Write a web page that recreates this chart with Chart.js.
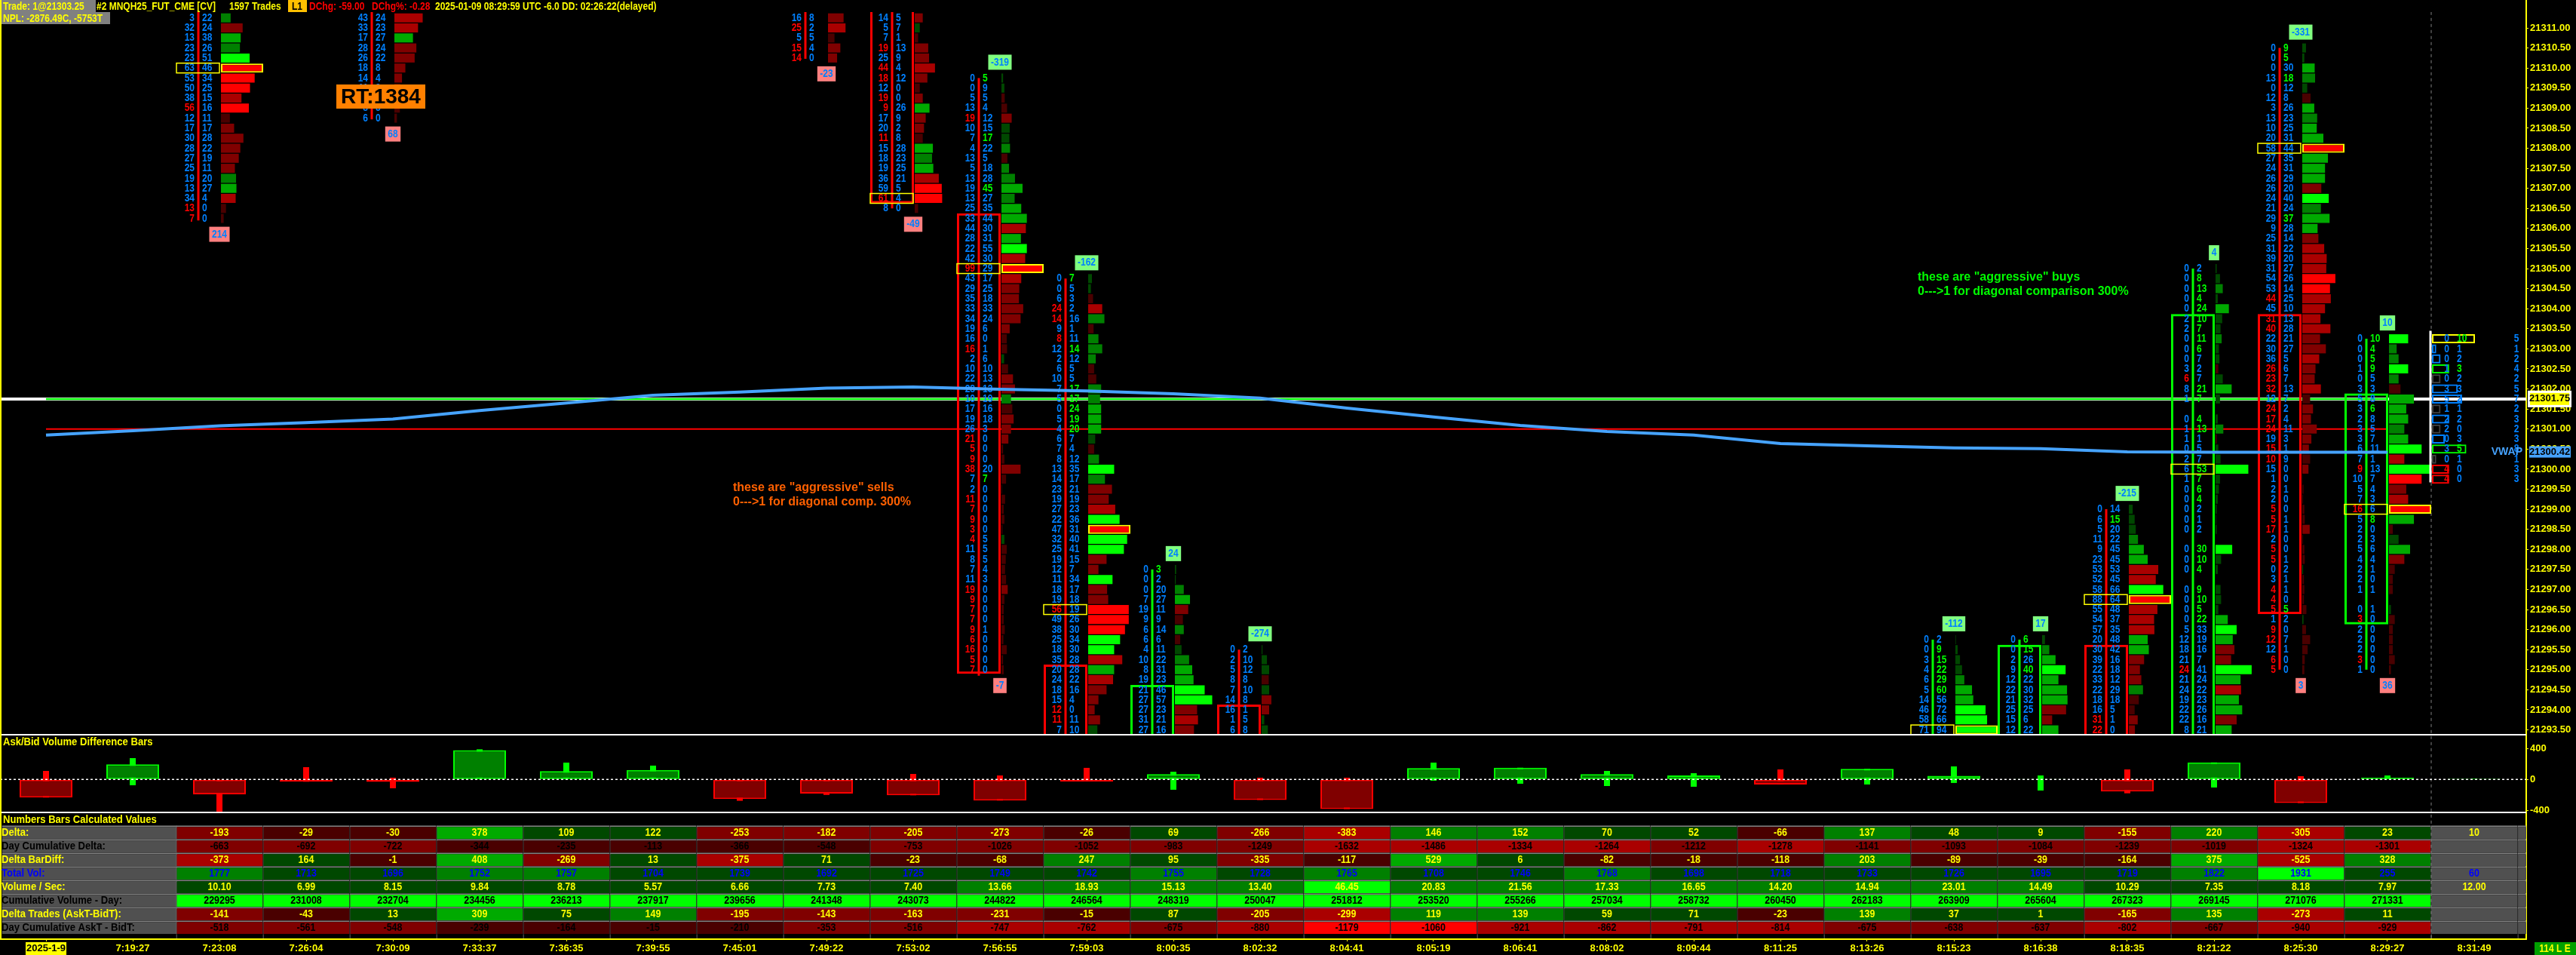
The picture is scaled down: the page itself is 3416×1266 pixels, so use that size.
<!DOCTYPE html>
<html>
<head>
<meta charset="utf-8">
<title>MNQH25 footprint</title>
<script src="https://cdn.jsdelivr.net/npm/chart.js@4"></script>
<style>
  html, body { margin: 0; padding: 0; background: #000; }
  canvas { display: block; }
</style>
</head>
<body>
<canvas id="chart" width="3416" height="1266" style="width:3416px;height:1266px"></canvas>
<script>
// time axis
const xLabels = ['2025-1-9','7:19:27','7:23:08','7:26:04','7:30:09','7:33:37','7:36:35','7:39:55','7:45:01','7:49:22','7:53:02','7:56:55','7:59:03','8:00:35','8:02:32','8:04:41','8:05:19','8:06:41','8:08:02','8:09:44','8:11:25','8:13:26','8:15:23','8:16:38','8:18:35','8:21:22','8:25:30','8:29:27','8:31:49'];
const priceTicks = [21311,21310.5,21310,21309.5,21309,21308.5,21308,21307.5,21307,21306.5,21306,21305.5,21305,21304.5,21304,21303.5,21303,21302.5,21302,21301.5,21301,21300.5,21300,21299.5,21299,21298.5,21298,21297.5,21297,21296.5,21296,21295.5,21295,21294.5,21294,21293.5];
const deltaTicks = [400,0,-400];

// footprint columns: slot on the time axis, price of first row, bid and ask per row (null = no trades)
const fpSlots = [2,4,9,10,11,12,13,14,22,23,24,25,26,27];
const fpTopPrice = [21311.25,21311.25,21311.25,21311.25,21309.75,21304.75,21297.5,21295.5,21295.75,21295.75,21299,21305,21310.5,21303.25];
const fpMaxVol = [109,100,65,100,128,78,95,95,165,88,152,76,102,22];
const fpBids = [
  [3,32,13,23,23,63,53,50,38,56,12,17,30,28,27,25,19,13,34,13,7],
  [43,33,17,28,26,18,14,11,6,8,6],
  [16,25,5,15,14],
  [14,5,7,19,25,44,18,12,19,9,17,20,11,15,18,19,36,59,61,8],
  [0,0,5,13,19,10,7,4,13,5,13,19,13,25,33,44,28,22,42,99,43,29,35,33,34,19,16,16,2,10,22,28,10,17,19,26,21,5,9,38,7,2,11,7,9,3,4,11,8,7,11,19,9,7,7,9,6,16,5,7],
  [0,0,6,24,14,9,8,12,2,6,10,7,5,0,5,4,6,7,8,13,14,23,19,27,22,47,32,25,19,12,11,18,19,56,49,38,25,18,35,20,24,18,15,12,11,7],
  [0,0,0,7,19,9,6,6,4,10,8,19,21,27,27,31,27],
  [0,2,5,8,7,14,16,1,6],
  [0,0,3,4,6,5,14,46,58,71],
  [0,0,2,9,12,22,21,25,15,12],
  [0,6,5,11,9,23,53,52,58,88,55,54,57,20,30,39,22,33,22,18,16,31,22],
  [0,0,0,0,0,2,2,0,0,0,3,6,8,1,null,0,1,1,0,2,6,1,0,0,0,0,0,null,0,0,0,null,0,0,0,0,5,12,18,21,24,21,24,19,22,22,8],
  [0,0,0,13,0,12,3,13,10,20,58,27,24,26,26,24,21,29,9,25,31,39,31,54,53,44,45,31,40,22,30,36,26,23,32,12,24,17,24,19,15,10,15,1,2,2,5,5,17,2,5,5,0,3,4,4,5,1,9,12,12,6,5],
  [0,0,0,1,0,3,5,3,2,3,3,6,7,9,10,5,7,16,5,2,2,5,4,2,2,1,null,0,3,2,2,2,3,1]
];
const fpAsks = [
  [22,24,38,26,51,46,34,25,15,16,11,17,28,22,19,11,20,27,4,0,0],
  [24,23,27,24,22,8,4,3,4,5,0],
  [8,2,5,4,0],
  [5,7,1,13,9,4,12,0,0,26,9,2,8,28,23,25,21,5,4,0],
  [5,9,5,4,12,15,17,22,5,18,28,45,27,35,44,30,31,55,30,29,17,25,18,33,24,6,0,1,6,10,13,13,19,16,18,3,0,0,0,20,7,0,0,0,0,0,5,5,5,4,3,0,0,0,0,1,0,0,0,0],
  [7,5,3,2,16,1,11,14,12,5,5,17,17,24,19,20,7,4,12,35,17,21,19,23,36,31,40,41,15,7,34,17,18,19,26,30,34,30,28,28,22,16,4,0,11,10],
  [3,2,20,27,11,9,14,6,11,22,31,23,46,57,23,21,16],
  [2,10,12,8,10,8,1,5,8],
  [2,9,15,22,29,60,56,72,66,94],
  [6,15,26,40,22,30,32,25,6,22],
  [14,15,20,22,45,45,53,45,66,64,48,37,35,48,42,16,18,12,29,18,5,1,0],
  [2,8,13,4,24,10,7,11,6,7,2,7,21,7,null,4,13,1,5,7,53,7,6,4,2,1,2,null,30,10,4,null,9,10,5,22,33,19,16,7,41,24,22,23,26,16,21],
  [9,5,30,18,12,8,26,23,25,31,44,35,31,29,20,40,24,37,28,14,22,20,27,26,14,25,10,13,28,21,27,5,6,7,13,7,2,4,11,3,1,9,0,0,1,0,0,1,1,0,0,1,2,1,1,0,5,2,0,7,1,0,0],
  [10,4,5,9,5,3,8,6,8,5,7,11,1,13,7,4,3,6,8,0,3,6,4,1,0,1,null,1,0,0,0,0,0,0]
];
// candle of each column (null = not on screen)
const fpUp = [false,false,false,false,false,false,true,false,true,true,false,true,false,true];
const fpWickTop = [21312,21312,21312,21312,21309.75,21304.75,21297.5,21295.5,21295.75,21295.75,21299,21305,21310.5,21303.25];
const fpWickBottom = [21306.2,21308.72,21310.23,21306.5,21294.85,21293,21293,21293,21293,21293,21293,21293,21295,21295];
const fpBoxTop = [null,null,null,21312,21306.38,21295.13,21294.62,21294.13,null,21295.62,21295.62,21303.87,21303.87,21301.89];
const fpBoxBottom = [null,null,null,21306.63,21294.9,21293,21293,21293,null,21293,21293,21293,21296.39,21296.13];
const fpLabelAbove = [null,null,null,null,'-319','-162','24','-274','-112','17','-215','4','-331','10'];
const fpLabelBelow = ['214','68','-23','-49','-7',null,null,null,null,null,null,null,'3','36'];
// rows boxed in yellow: numbers and profile bar
const fpPocNumbers = [21310,null,null,21306.75,21305,21296.5,null,null,21293.5,null,21296.75,21300,21308,21299];
const fpPocBar = [21310,null,null,null,21305,21298.5,null,null,21293.5,null,21296.75,null,21308,21299];

// developing bar at the right edge
const lastSlot = 28;
const lastTopPrice = 21303.25;
const lastBids = [0,0,0,1,0,3,5,1,2,2,0,3,0,4,4];
const lastAsks = [10,1,2,3,2,3,2,1,2,0,3,5,1,0,0];
const lastTotals = [5,1,2,4,2,5,7,2,3,2,3,8,1,3,3];
const lastOutline = ['#ffff00','#0080ff','#0080ff','#00ff00','#404040','#0080ff','#0080ff','#404040','#0080ff','#404040','#0080ff','#00ff00','#404040','#ff0000','#ff0000'];

// study lines
const vwap = [21300.85,21300.96,21301.08,21301.16,21301.25,21301.46,21301.65,21301.84,21301.92,21302.02,21302.05,21301.99,21301.95,21301.88,21301.77,21301.52,21301.30,21301.09,21300.94,21300.85,21300.64,21300.58,21300.53,21300.51,21300.43,21300.42,21300.42,21300.42];
const lastPrice = 21301.75;
const redLevel = 21301;
const vwapLast = 21300.42;

// numbers table, one value per slot from slot 2 on
const rowDelta = [-193,-29,-30,378,109,122,-253,-182,-205,-273,-26,69,-266,-383,146,152,70,52,-66,137,48,9,-155,220,-305,23,10];
const rowCumDelta = [-663,-692,-722,-344,-235,-113,-366,-548,-753,-1026,-1052,-983,-1249,-1632,-1486,-1334,-1264,-1212,-1278,-1141,-1093,-1084,-1239,-1019,-1324,-1301,null];
const rowBarDiff = [-373,164,-1,408,-269,13,-375,71,-23,-68,247,95,-335,-117,529,6,-82,-18,-118,203,-89,-39,-164,375,-525,328,null];
const rowTotalVol = [1777,1713,1696,1752,1757,1704,1739,1692,1725,1749,1742,1755,1728,1765,1708,1746,1768,1698,1718,1733,1726,1695,1719,1822,1931,255,60];
const rowVolSec = [10.10,6.99,8.15,9.84,8.78,5.57,6.66,7.73,7.40,13.66,18.93,15.13,13.40,46.45,20.83,21.56,17.33,16.65,14.20,14.94,23.01,14.49,10.29,7.35,8.18,7.97,12.00];
const rowCumVol = [229295,231008,232704,234456,236213,237917,239656,241348,243073,244822,246564,248319,250047,251812,253520,255266,257034,258732,260450,262183,263909,265604,267323,269145,271076,271331,null];
const rowTrades = [-141,-43,13,309,75,149,-195,-143,-163,-231,-15,87,-205,-299,119,139,59,71,-23,139,37,1,-165,135,-273,11,null];
const rowCumTrades = [-518,-561,-548,-239,-164,-15,-210,-353,-516,-747,-762,-675,-880,-1179,-1060,-921,-862,-791,-814,-675,-638,-637,-802,-667,-940,-929,null];
const rowNames = ['Delta:','Day Cumulative Delta:','Delta BarDiff:','Total Vol:','Volume / Sec:','Cumulative Volume - Day:','Delta Trades (AskT-BidT):','Day Cumulative AskT - BidT:'];
const rowValues = [rowDelta,rowCumDelta,rowBarDiff,rowTotalVol,rowVolSec,rowCumVol,rowTrades,rowCumTrades];

// ask/bid difference pane: body is the delta, first two slots are left of the table
const deltaClose = [-234,195].concat(rowDelta);
const deltaHigh = [110,276,0,159,23,390,218,179,0,0,71,52,150,100,23,23,218,152,110,81,130,137,169,52,130,220,42,52,10];
const deltaLow = [-234,-75,-416,-29,-114,0,0,0,-276,-200,-205,-273,-26,-133,-266,-383,-16,-55,-85,-94,-66,-65,-45,-143,-179,-104,-305,0,0];

// look
const YELLOW = '#ffff00', BLUE = '#0080ff', GREY = '#505050', LINE = '#808080';
const REDS = ['#4a0000','#800000','#aa0000','#ff0000'];
const GREENS = ['#004800','#008000','#00aa00','#00ff00'];
const NUM_FONT = "bold 15px 'Liberation Sans'";
const AXIS_FONT = { family: "'Liberation Sans'", size: 13, weight: 'bold' };
const NOTE_FONT = "bold 16px 'Liberation Sans'";
const SLOT = 115;                 // pixels per time slot
const TABLE_TEXT = [YELLOW,'#000',YELLOW,'#0000ff',YELLOW,'#000',YELLOW,'#000'];
const TABLE_TIERS = [[130,300,1e9],[600,1250,1e9],[200,340,1e9],[1750,1850,1900],[13,30,40],[0,0,0],[100,250,1e9],[300,700,1000]];

const px = p => p / SLOT;

function profileColor(bid, ask, maxVol) {
  const big = Math.max(bid, ask) / maxVol;
  if (ask > bid) return GREENS[big >= 0.38 ? 3 : big >= 0.24 ? 2 : big >= 0.14 ? 1 : 0];
  return REDS[big >= 0.45 ? 3 : big >= 0.3 ? 2 : big >= 0.14 ? 1 : 0];
}

function cellColor(row, v, slot) {
  if (v === null || slot === lastSlot) return GREY;
  if (rowValues[row] === rowCumVol) return GREENS[3];
  const t = TABLE_TIERS[row], a = Math.abs(v);
  const tier = a >= t[2] ? 3 : a >= t[1] ? 2 : a >= t[0] ? 1 : 0;
  return (v < 0 ? REDS : GREENS)[tier];
}

function priceRows(top, bids, asks) {
  return bids.map((b, r) => ({ price: top - r * 0.25, bid: b, ask: asks[r] }));
}

const topClip = { left: 0, right: 0, top: -16, bottom: -271 };
const datasets = [];

// VWAP goes over the numbers, so it gets the lowest order
datasets.push({
  type: 'line', label: 'VWAP', order: 0, yAxisID: 'y', xAxisID: 'x', clip: topClip,
  data: vwap.map((v, i) => ({ x: i, y: v })),
  borderColor: '#46a3ff', borderWidth: 4, pointRadius: 0, tension: 0
});

// candle wicks and boxes
datasets.push({
  type: 'bar', id: 'fpWicks', label: 'wicks', order: 1, yAxisID: 'y', xAxisID: 'x', clip: topClip,
  grouped: false, barThickness: 3, borderWidth: 0, inflateAmount: 0,
  data: fpSlots.map((s, c) => ({ x: s - px(28), y: [fpWickBottom[c], fpWickTop[c]] })).concat([{ x: lastSlot - px(58), y: [21299.67, 21303.45] }]),
  backgroundColor: fpUp.map(u => u ? '#00ff00' : '#ff0000').concat(['#ffffff'])
});
datasets.push({
  type: 'bar', label: 'boxes', order: 2, yAxisID: 'y', xAxisID: 'x', clip: topClip,
  grouped: false, barThickness: 58, borderWidth: 3, borderSkipped: false, inflateAmount: 0,
  data: fpSlots.map((s, c) => fpBoxTop[c] === null ? null : ({ x: s - px(28), y: [fpBoxBottom[c], fpBoxTop[c]] })).filter(d => d),
  backgroundColor: 'transparent',
  borderColor: fpSlots.map((s, c) => fpBoxTop[c] === null ? null : (fpUp[c] ? '#00ff00' : '#ff0000')).filter(d => d)
});

// volume profile of each column, horizontal bars on the price scale
fpSlots.forEach((s, c) => {
  const rows = priceRows(fpTopPrice[c], fpBids[c], fpAsks[c]).filter(r => r.bid !== null);
  datasets.push({
    type: 'bar', indexAxis: 'y', label: 'profile ' + s, order: 3, xAxisID: 'x', yAxisID: 'y', clip: topClip,
    grouped: false, barThickness: 12, inflateAmount: 0, borderSkipped: false,
    data: rows.map(r => ({ y: r.price, x: [s + px(2), s + px(2) + px(56) * (r.bid + r.ask) / fpMaxVol[c]] })),
    backgroundColor: rows.map(r => profileColor(r.bid, r.ask, fpMaxVol[c])),
    borderColor: YELLOW,
    borderWidth: rows.map(r => r.price === fpPocBar[c] ? 2 : 0)
  });
});
const lastRows = priceRows(lastTopPrice, lastBids, lastAsks);
datasets.push({
  type: 'bar', indexAxis: 'y', label: 'developing', order: 3, xAxisID: 'x', yAxisID: 'y', clip: topClip,
  grouped: false, barThickness: 12, inflateAmount: 0, borderSkipped: false, borderWidth: 2,
  data: lastRows.map(r => ({ y: r.price, x: [lastSlot - px(56), lastSlot - px(56) + px(5.7) * (r.bid + r.ask)] })),
  backgroundColor: 'transparent',
  borderColor: lastOutline
});

// horizontal levels and the session end marker
const xMin = -61 / SLOT, xMax = (3350 - 61) / SLOT;
datasets.push({
  type: 'line', label: 'green level', order: 5, yAxisID: 'y', xAxisID: 'x', clip: topClip,
  data: [{ x: 0, y: lastPrice }, { x: 27, y: lastPrice }], borderColor: '#00ff00', borderWidth: 2.5, pointRadius: 0
});
datasets.push({
  type: 'line', label: 'red level', order: 5, yAxisID: 'y', xAxisID: 'x', clip: topClip,
  data: [{ x: 0, y: redLevel }, { x: 27, y: redLevel }], borderColor: '#ff0000', borderWidth: 2, pointRadius: 0
});
datasets.push({
  type: 'line', label: 'last', order: 6, yAxisID: 'y', xAxisID: 'x', clip: topClip,
  data: [{ x: xMin, y: lastPrice }, { x: xMax, y: lastPrice }], borderColor: '#ffffff', borderWidth: 4, pointRadius: 0
});
datasets.push({
  type: 'line', label: 'bar end', order: 7, yAxisID: 'y', xAxisID: 'x', clip: { left: 0, right: 0, top: -16, bottom: 0 },
  data: [{ x: lastSlot - px(57), y: 21312 }, { x: lastSlot - px(57), y: 21288.3 }],
  borderColor: LINE, borderWidth: 1, borderDash: [4, 4], pointRadius: 0
});

// ask/bid difference pane
datasets.push({
  type: 'line', label: 'zero', order: 3, yAxisID: 'delta', xAxisID: 'x',
  data: [{ x: xMin, y: 0 }, { x: xMax, y: 0 }], borderColor: '#ffffff', borderWidth: 1.5, borderDash: [3, 3], pointRadius: 0
});
datasets.push({
  type: 'bar', label: 'delta range', order: 5, yAxisID: 'delta', xAxisID: 'x',
  grouped: false, barThickness: 8, inflateAmount: 0,
  data: deltaClose.map((v, i) => ({ x: i, y: [deltaLow[i], deltaHigh[i]] })),
  backgroundColor: deltaClose.map(v => v < 0 ? '#ff0000' : '#00ff00')
});
datasets.push({
  type: 'bar', label: 'delta', order: 4, yAxisID: 'delta', xAxisID: 'x',
  grouped: false, barThickness: 70, inflateAmount: 0, borderSkipped: false, borderWidth: 2,
  data: deltaClose.map((v, i) => ({ x: i, y: [0, v] })),
  backgroundColor: deltaClose.map(v => v < 0 ? '#800000' : '#008000'),
  borderColor: deltaClose.map(v => v < 0 ? '#ff0000' : '#00ff00')
});

// table cells, drawn as bars between row numbers
rowValues.forEach((vals, r) => {
  const cells = vals.concat([null]);
  datasets.push({
    type: 'bar', label: rowNames[r], order: 8, yAxisID: 'table', xAxisID: 'x',
    grouped: false, barThickness: SLOT, inflateAmount: 0, borderSkipped: false,
    borderWidth: { top: 2, left: 1, right: 0, bottom: 0 }, borderColor: LINE,
    data: cells.map((v, j) => ({ x: j + 2, y: [r, r + 1] })),
    backgroundColor: cells.map((v, j) => cellColor(r, v, j + 2))
  });
  datasets.push({
    type: 'bar', label: rowNames[r] + ' name', order: 8, yAxisID: 'table', xAxisID: 'x',
    grouped: false, barThickness: 232, inflateAmount: 0, borderSkipped: false,
    borderWidth: { top: 2, left: 0, right: 0, bottom: 0 }, borderColor: LINE,
    data: [{ x: px(118.5 - 61), y: [r, r + 1] }],
    backgroundColor: GREY
  });
});
datasets.push({
  type: 'bar', label: 'table stubs', order: 8, yAxisID: 'table', xAxisID: 'x',
  grouped: false, barThickness: SLOT, inflateAmount: 0, borderSkipped: false,
  borderWidth: { top: 0, left: 1, right: 0, bottom: 0 }, borderColor: LINE,
  data: xLabels.slice(2).concat(['']).map((t, j) => ({ x: j + 2, y: [8, 8.33] })),
  backgroundColor: 'transparent'
});

// the original font is tall and narrow, so text gets squeezed sideways by k
function drawText(ctx, text, x, y, color, align, font, k) {
  ctx.save();
  ctx.font = font || NUM_FONT;
  ctx.fillStyle = color;
  ctx.textAlign = align;
  ctx.textBaseline = 'middle';
  ctx.translate(x, y);
  ctx.scale(k || 0.8, 1);
  ctx.fillText(text, 0, 0);
  ctx.restore();
}

function drawRows(ctx, chart, slot, top, bids, asks, pocPrice) {
  const xs = chart.scales.x, ys = chart.scales.y;
  const tick = xs.getPixelForValue(slot);
  bids.forEach((bid, r) => {
    if (bid === null) return;
    const ask = asks[r];
    const y = ys.getPixelForValue(top - r * 0.25);
    const askAbove = r > 0 ? (asks[r - 1] || 0) : null;
    const bidBelow = r < bids.length - 1 ? (bids[r + 1] || 0) : null;
    const bidHot = askAbove !== null && bid >= 3 && bid >= 3 * askAbove;
    const askHot = bidBelow !== null && ask >= 3 && ask >= 3 * bidBelow;
    drawText(ctx, String(bid), tick - 33, y, bidHot ? '#ff0000' : BLUE, 'right');
    drawText(ctx, String(ask), tick - 23, y, askHot ? '#00ff00' : BLUE, 'left');
    if (top - r * 0.25 === pocPrice) {
      ctx.strokeStyle = YELLOW;
      ctx.lineWidth = 1.5;
      ctx.strokeRect(tick - 57, y - 6.5, 57, 13);
    }
  });
}

function drawTag(ctx, text, cx, cy, bg) {
  ctx.font = NUM_FONT;
  const w = ctx.measureText(text).width * 0.8 + 7;
  ctx.fillStyle = bg;
  ctx.fillRect(cx - w / 2, cy - 10, w, 20);
  drawText(ctx, text, cx, cy, BLUE, 'center');
}

const footprintText = {
  id: 'footprintText',
  // numbers sit on top of the bars but under the VWAP line
  afterDatasetDraw(chart, args) {
    if (chart.data.datasets[args.index].id !== 'fpWicks') return;
    const ctx = chart.ctx, xs = chart.scales.x, ys = chart.scales.y;
    ctx.save();
    ctx.beginPath();
    ctx.rect(0, 16, 3350, 958);
    ctx.clip();
    fpSlots.forEach((s, c) => {
      drawRows(ctx, chart, s, fpTopPrice[c], fpBids[c], fpAsks[c], fpPocNumbers[c]);
      const cx = xs.getPixelForValue(s);
      const n = fpBids[c].length;
      if (fpLabelAbove[c]) drawTag(ctx, fpLabelAbove[c], cx, ys.getPixelForValue(fpTopPrice[c]) - 21, '#80ff80');
      if (fpLabelBelow[c]) drawTag(ctx, fpLabelBelow[c], cx, ys.getPixelForValue(fpTopPrice[c] - (n - 1) * 0.25) + 21, '#ff8080');
    });
    drawRows(ctx, chart, lastSlot, lastTopPrice, lastBids, lastAsks, null);
    lastTotals.forEach((t, r) => {
      drawText(ctx, String(t), xs.getPixelForValue(lastSlot) + 56, ys.getPixelForValue(lastTopPrice - r * 0.25), BLUE, 'center');
    });
    ctx.restore();
  }
};

const chrome = {
  id: 'chrome',
  // second right-hand axis shares the same strip as the price axis
  afterLayout(chart) {
    const d = chart.scales.delta;
    d.left = chart.chartArea.right;
    d.right = chart.width;
    d.width = chart.width - chart.chartArea.right;
  },
  afterDatasetsDraw(chart) {
    const ctx = chart.ctx, xs = chart.scales.x, ys = chart.scales.y, ts = chart.scales.table;
    ctx.save();

    // pane separators and left edge
    ctx.fillStyle = '#ffffff';
    ctx.fillRect(0, 973, 3350, 2);
    ctx.fillRect(0, 1076, 3350, 2);
    ctx.fillStyle = YELLOW;
    ctx.fillRect(0, 0, 2, 1245);

    // table texts
    rowValues.forEach((vals, r) => {
      const y = (ts.getPixelForValue(r) + ts.getPixelForValue(r + 1)) / 2 + 1;
      vals.forEach((v, j) => {
        if (v === null) return;
        const text = vals === rowVolSec ? v.toFixed(2) : String(v);
        drawText(ctx, text, xs.getPixelForValue(j + 2), y, TABLE_TEXT[r], 'center', NUM_FONT, 0.83);
      });
      drawText(ctx, rowNames[r], 2, y, TABLE_TEXT[r], 'left', NUM_FONT, 0.87);
    });

    // pane titles
    drawText(ctx, 'Ask/Bid Volume Difference Bars', 4, 984, YELLOW, 'left', NUM_FONT, 0.87);
    drawText(ctx, 'Numbers Bars Calculated Values', 4, 1087, YELLOW, 'left', NUM_FONT, 0.87);

    // notes
    drawText(ctx, 'these are "aggressive" sells', 972, 647, '#ff6000', 'left', NOTE_FONT, 1);
    drawText(ctx, '0--->1 for diagonal comp. 300%', 972, 666, '#ff6000', 'left', NOTE_FONT, 1);
    drawText(ctx, 'these are "aggressive" buys', 2543, 368, '#00ff00', 'left', NOTE_FONT, 1);
    drawText(ctx, '0--->1 for diagonal comparison 300%', 2543, 387, '#00ff00', 'left', NOTE_FONT, 1);

    // RT tag
    ctx.fillStyle = '#ff8000';
    ctx.fillRect(446, 112, 118, 32);
    drawText(ctx, 'RT:1384', 505, 129, '#000', 'center', "bold 28px 'Liberation Sans'", 1);

    // header
    ctx.fillStyle = LINE;
    ctx.fillRect(2, 0, 125, 16);
    ctx.fillRect(2, 16, 144, 16);
    ctx.fillStyle = '#ffc000';
    ctx.fillRect(382, 0, 25, 16);
    drawText(ctx, 'Trade: 1@21303.25', 4, 9, YELLOW, 'left');
    drawText(ctx, '#2 MNQH25_FUT_CME [CV]', 128, 9, YELLOW, 'left');
    drawText(ctx, '1597 Trades', 304, 9, YELLOW, 'left');
    drawText(ctx, 'L1', 394, 9, '#000', 'center');
    drawText(ctx, 'DChg: -59.00', 410, 9, '#ff0000', 'left');
    drawText(ctx, 'DChg%: -0.28', 493, 9, '#ff0000', 'left');
    drawText(ctx, '2025-01-09 08:29:59 UTC -6.0 DD: 02:26:22(delayed)', 577, 9, YELLOW, 'left');
    drawText(ctx, 'NPL: -2876.49C, -5753T', 4, 25, YELLOW, 'left');

    // right strip: price flags and corner tag
    const axisFont = "bold 13px 'Liberation Sans'";
    const lastY = ys.getPixelForValue(lastPrice);
    ctx.fillStyle = '#ffffff';
    ctx.fillRect(3352, lastY - 11, 58, 22);
    ctx.fillStyle = YELLOW;
    ctx.fillRect(3355, lastY - 8, 52, 16);
    drawText(ctx, lastPrice.toFixed(2), 3381, lastY, '#000', 'center', axisFont, 1);
    const vY = ys.getPixelForValue(vwapLast);
    ctx.fillStyle = '#46a3ff';
    ctx.fillRect(3354, vY - 8, 55, 15);
    drawText(ctx, vwapLast.toFixed(2), 3381, vY, '#000', 'center', axisFont, 1);
    drawText(ctx, 'VWAP', 3345, vY, '#46a3ff', 'right', "bold 14px 'Liberation Sans'", 1);
    ctx.fillStyle = '#000';
    ctx.fillRect(3351, 1078, 65, 8);
    ctx.fillStyle = '#00a000';
    ctx.fillRect(3361, 1249, 55, 17);
    drawText(ctx, '114 L E', 3388, 1258, YELLOW, 'center');
    ctx.restore();
  }
};

const yellowTicks = { color: YELLOW, font: AXIS_FONT, autoSkip: false, padding: 2 };
const yellowBorder = { color: YELLOW, width: 2 };

// tick labels must not push the plot area in from the window edges
function noPadding(s) {
  s.paddingTop = 0; s.paddingBottom = 0; s.paddingLeft = 0; s.paddingRight = 0;
}

new Chart(document.getElementById('chart').getContext('2d'), {
  type: 'bar',
  data: { datasets },
  plugins: [footprintText, chrome],
  options: {
    responsive: false,
    animation: false,
    events: [],
    layout: { autoPadding: false, padding: 0 },
    plugins: { legend: { display: false }, tooltip: { enabled: false }, title: { display: false } },
    scales: {
      x: {
        type: 'linear', axis: 'x', position: 'bottom', min: xMin, max: xMax, offset: false, beginAtZero: false,
        afterBuildTicks(s) { s.ticks = xLabels.map((t, i) => ({ value: i })); },
        afterFit(s) { s.height = 21; noPadding(s); },
        border: yellowBorder,
        grid: { display: true, offset: false, drawOnChartArea: false, tickLength: 3, tickColor: YELLOW },
        ticks: {
          autoSkip: false, maxRotation: 0, minRotation: 0, padding: 2, font: AXIS_FONT,
          callback: v => xLabels[v],
          color: c => c.index === 0 ? '#000' : YELLOW,
          showLabelBackdrop: c => c.index === 0,
          backdropColor: YELLOW, backdropPadding: 1
        }
      },
      y: {
        type: 'linear', axis: 'y', position: 'right', min: 21311 - 1208 / 53.176, max: 21311 + 37 / 53.176, offset: false, beginAtZero: false,
        afterBuildTicks(s) { s.ticks = priceTicks.map(v => ({ value: v })); },
        afterFit(s) { s.width = 66; noPadding(s); },
        border: yellowBorder,
        grid: { display: true, offset: false, drawOnChartArea: false, tickLength: 3, tickColor: YELLOW },
        ticks: Object.assign({}, yellowTicks, { callback: v => v.toFixed(2) })
      },
      delta: {
        type: 'linear', axis: 'y', position: 'right', min: (1033.3 - 1245) / 0.1025, max: 1033.3 / 0.1025, offset: false, beginAtZero: false,
        afterBuildTicks(s) { s.ticks = deltaTicks.map(v => ({ value: v })); },
        afterFit(s) { s.width = 0; noPadding(s); },
        border: { display: false },
        grid: { display: true, drawOnChartArea: false, tickLength: 3, tickColor: YELLOW },
        ticks: Object.assign({}, yellowTicks, { callback: v => String(v) })
      },
      table: {
        type: 'linear', axis: 'y', display: false, reverse: true, min: -1094.3 / 18, max: (1245 - 1094.3) / 18, offset: false, beginAtZero: false
      }
    }
  }
});
</script>
</body>
</html>
